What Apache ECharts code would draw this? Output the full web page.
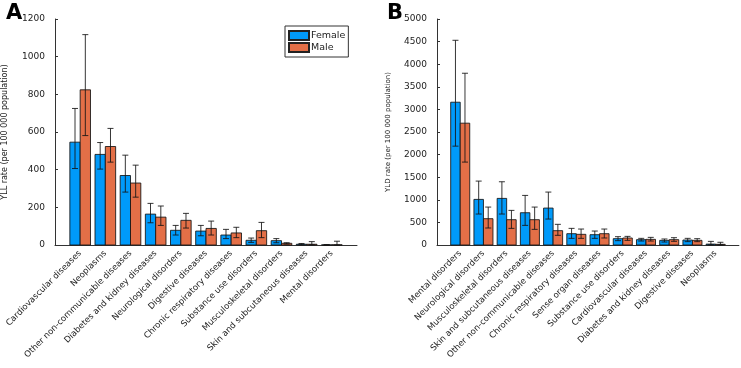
<!DOCTYPE html>
<html>
<head>
<meta charset="utf-8">
<script src="https://cdn.jsdelivr.net/npm/echarts@6/dist/echarts.min.js"></script>
<style>
  html, body { margin: 0; padding: 0; background: #fff; }
  #chart { width: 741px; height: 368px; }
</style>
</head>
<body>
<div id="chart"></div>
<script>
// Panel A: YLL rate
var catsA = ['Cardiovascular diseases', 'Neoplasms', 'Other non-communicable diseases',
	'Diabetes and kidney diseases', 'Neurological disorders', 'Digestive diseases',
	'Chronic respiratory diseases', 'Substance use disorders', 'Musculoskeletal disorders',
	'Skin and subcutaneous diseases', 'Mental disorders'];
var femaleA = [546, 481, 369, 164, 78, 74, 53, 25, 23, 4, 0.5];
var femaleA_lo = [406, 403, 281, 118, 53, 49, 34, 14, 12, 1, 0];
var femaleA_hi = [725, 544, 477, 221, 104, 104, 83, 37, 34, 8, 2];
var maleA = [824, 523, 329, 148, 131, 88, 64, 76, 9, 4, 1];
var maleA_lo = [581, 440, 254, 104, 90, 53, 39, 39, 5, 1, 0];
var maleA_hi = [1117, 619, 424, 207, 168, 127, 94, 120, 12, 18, 20];

// Panel B: YLD rate
var catsB = ['Mental disorders', 'Neurological disorders', 'Musculoskeletal disorders',
	'Skin and subcutaneous diseases', 'Other non-communicable diseases',
	'Chronic respiratory diseases', 'Sense organ diseases', 'Substance use disorders',
	'Cardiovascular diseases', 'Diabetes and kidney diseases', 'Digestive diseases', 'Neoplasms'];
var femaleB = [3159, 1009, 1031, 714, 817, 250, 228, 140, 118, 103, 110, 20];
var femaleB_lo = [2187, 685, 685, 434, 574, 147, 147, 96, 88, 66, 74, 5];
var femaleB_hi = [4529, 1414, 1399, 1097, 1171, 368, 309, 184, 147, 133, 147, 80];
var maleB = [2695, 582, 560, 560, 317, 236, 250, 155, 125, 118, 103, 15];
var maleB_lo = [1834, 376, 368, 346, 214, 147, 155, 103, 88, 81, 74, 5];
var maleB_hi = [3800, 839, 766, 839, 457, 353, 353, 191, 169, 162, 140, 60];

var blue = '#009AFA';
var orange = '#E36F47';
var barW = 0.41;

function rows(vals, lo, hi){
	var out = [];
	for(var i=0; i<vals.length; i++){
		out.push([i+1, vals[i], lo[i], hi[i]]);
	}
	return out;
}

function makeRender(side){
	return function(params, api){
		var x = api.value(0);
		var x0 = side < 0 ? x - barW : x;
		var x1 = side < 0 ? x : x + barW;
		var xc = (x0 + x1) / 2;
		var p0 = api.coord([x0, 0]);
		var p1 = api.coord([x1, api.value(1)]);
		var lo = api.coord([xc, api.value(2)]);
		var hi = api.coord([xc, api.value(3)]);
		var cap = 3;
		var barStyle = { fill: api.visual('color'), stroke: 'rgba(20,20,20,0.85)', lineWidth: 1 };
		var errStyle = { stroke: 'rgba(20,20,20,0.85)', lineWidth: 1 };
		return {
			type: 'group',
			children: [
				{ type: 'rect', shape: { x: p0[0], y: p1[1], width: p1[0] - p0[0], height: p0[1] - p1[1] }, style: barStyle },
				{ type: 'line', shape: { x1: lo[0], y1: lo[1], x2: hi[0], y2: hi[1] }, style: errStyle },
				{ type: 'line', shape: { x1: lo[0] - cap, y1: lo[1], x2: lo[0] + cap, y2: lo[1] }, style: errStyle },
				{ type: 'line', shape: { x1: hi[0] - cap, y1: hi[1], x2: hi[0] + cap, y2: hi[1] }, style: errStyle }
			]
		};
	};
}

function xAxisFor(idx, cats){
	return {
		type: 'value', gridIndex: idx, min: 0, max: cats.length + 1, interval: 1,
		splitLine: { show: false },
		axisTick: { show: false },
		axisLine: { lineStyle: { color: '#333', width: 1 } },
		axisLabel: {
			rotate: 45, margin: 7, fontSize: 8.5, color: '#222', fontFamily: 'DejaVu Sans',
			showMinLabel: true, showMaxLabel: true,
			formatter: function(v){ return cats[v-1] || ''; }
		}
	};
}

function yAxisFor(idx, max, interval, name, nameSize, gap){
	return {
		type: 'value', gridIndex: idx, min: 0, max: max, interval: interval,
		name: name, nameLocation: 'middle', nameGap: gap,
		nameTextStyle: { fontSize: nameSize, color: '#222', fontFamily: 'DejaVu Sans' },
		splitLine: { show: false },
		axisTick: { show: true, inside: true, length: 3, lineStyle: { color: '#333' } },
		axisLine: { show: true, lineStyle: { color: '#333', width: 1 } },
		axisLabel: { fontSize: 9, color: '#222', margin: 10, fontFamily: 'DejaVu Sans',
			formatter: function(v){ return String(v); } }
	};
}

var chart = echarts.init(document.getElementById('chart'), null, { renderer: 'canvas' });

var options = {
	animation: false,
	backgroundColor: '#fff',
	title: [
		{ text: 'A', left: 1, top: -2, textStyle: { fontSize: 21, fontWeight: 'bold', color: '#000', fontFamily: 'DejaVu Sans' } },
		{ text: 'B', left: 382, top: -2, textStyle: { fontSize: 21, fontWeight: 'bold', color: '#000', fontFamily: 'DejaVu Sans' } }
	],
	legend: {
		data: ['Female', 'Male'],
		orient: 'vertical',
		left: 285, top: 26,
		itemWidth: 20, itemHeight: 9, itemGap: 1,
		padding: [4, 3, 4, 3],
		borderColor: '#333', borderWidth: 1,
		icon: 'rect',
		textStyle: { fontSize: 9.5, color: '#222', fontFamily: 'DejaVu Sans', padding: [0, 0, 0, -3] }
	},
	grid: [
		{ left: 55, top: 19, width: 302, height: 226 },
		{ left: 437, top: 19, width: 302, height: 226 }
	],
	xAxis: [xAxisFor(0, catsA), xAxisFor(1, catsB)],
	yAxis: [
		yAxisFor(0, 1200, 200, 'YLL rate (per 100 000 population)', 8, 46),
		yAxisFor(1, 5000, 500, 'YLD rate (per 100 000 population)', 7, 45)
	],
	series: [
		{ name: 'Female', type: 'custom', xAxisIndex: 0, yAxisIndex: 0, renderItem: makeRender(-1),
			itemStyle: { color: blue, borderColor: '#222', borderWidth: 1 }, data: rows(femaleA, femaleA_lo, femaleA_hi) },
		{ name: 'Male', type: 'custom', xAxisIndex: 0, yAxisIndex: 0, renderItem: makeRender(1),
			itemStyle: { color: orange, borderColor: '#222', borderWidth: 1 }, data: rows(maleA, maleA_lo, maleA_hi) },
		{ name: 'Female', type: 'custom', xAxisIndex: 1, yAxisIndex: 1, renderItem: makeRender(-1),
			itemStyle: { color: blue, borderColor: '#222', borderWidth: 1 }, data: rows(femaleB, femaleB_lo, femaleB_hi) },
		{ name: 'Male', type: 'custom', xAxisIndex: 1, yAxisIndex: 1, renderItem: makeRender(1),
			itemStyle: { color: orange, borderColor: '#222', borderWidth: 1 }, data: rows(maleB, maleB_lo, maleB_hi) }
	]
};

chart.setOption(options);
</script>
</body>
</html>
